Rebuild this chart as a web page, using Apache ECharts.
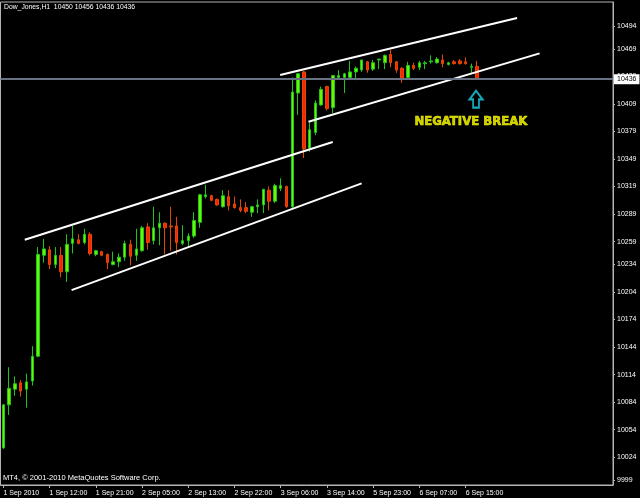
<!DOCTYPE html>
<html><head><meta charset="utf-8">
<script src="https://cdn.jsdelivr.net/npm/echarts@6/dist/echarts.min.js"></script>
<style>html,body{margin:0;padding:0;background:#000;}#c{width:640px;height:498px;}</style>
</head><body><div id="c"></div>
<script>
const chartTitle = 'Dow_Jones,H1  10450 10456 10436 10436';
const footerText = 'MT4, \u00a9 2001-2010 MetaQuotes Software Corp.';
const xTickLabels = ['1 Sep 2010','1 Sep 12:00','1 Sep 21:00','2 Sep 05:00','2 Sep 13:00','2 Sep 22:00','3 Sep 06:00','3 Sep 14:00','5 Sep 23:00','6 Sep 07:00','6 Sep 15:00'];
const barsPerTick = 8;
const totalSlots = 106;
const yTickValues = [10494,10469,10439,10409,10379,10349,10319,10289,10259,10234,10204,10174,10144,10114,10084,10054,10024,9999];
const yMin = 9993.6, yMax = 10520.2;
const currentPrice = 10436;

const opens = [10034,10081,10098,10105,10098,10107,10134,10244,10250,10234,
  10244,10226,10257,10261,10258,10267,10245,10248,10245,10234,
  10237,10242,10256,10244,10249,10275,10260,10274,10279,10276,
  10276,10257,10260,10265,10280,10308,10309,10305,10297,10308,
  10300,10296,10296,10291,10297,10299,10315,10303,10317,10319,
  10297,10421,10444,10361,10378,10408,10428,10405,10438,10438,
  10438,10444,10446,10455,10447,10457,10454,10463,10455,10448,
  10438,10451,10449,10453,10455,10454,10457,10452,10455,10456,
  10455,10449,10450];
const highs = [10082,10122,10112,10108,10115,10145,10253,10262,10254,10253,
  10253,10267,10276,10267,10273,10269,10250,10249,10246,10248,
  10246,10260,10261,10273,10276,10279,10297,10291,10280,10297,
  10286,10277,10268,10291,10311,10321,10310,10306,10315,10315,
  10308,10305,10302,10298,10305,10316,10319,10322,10328,10320,
  10438,10443,10445,10389,10413,10428,10429,10440,10446,10443,
  10456,10450,10457,10456,10457,10458,10463,10468,10456,10449,
  10455,10454,10456,10456,10462,10460,10463,10455,10457,10458,
  10460,10453,10456];
const lows = [10033,10070,10091,10090,10078,10102,10133,10236,10229,10230,
  10220,10215,10246,10256,10256,10244,10243,10243,10229,10233,
  10231,10238,10233,10238,10248,10250,10256,10255,10245,10249,
  10245,10255,10253,10263,10274,10306,10303,10298,10296,10293,
  10295,10291,10290,10286,10290,10290,10293,10301,10314,10296,
  10296,10397,10350,10357,10375,10407,10402,10399,10436,10421,
  10435,10435,10444,10443,10445,10447,10447,10449,10443,10432,
  10437,10446,10446,10447,10453,10453,10449,10451,10452,10452,
  10452,10443,10436];
const closes = [10081,10099,10104,10096,10106,10134,10245,10251,10234,10244,
  10226,10256,10262,10257,10267,10246,10249,10244,10236,10237,
  10242,10257,10243,10251,10274,10258,10274,10279,10274,10275,
  10258,10260,10265,10282,10310,10310,10304,10299,10309,10298,
  10296,10293,10292,10297,10299,10316,10303,10320,10320,10297,
  10422,10442,10360,10381,10410,10425,10404,10440,10440,10442,
  10444,10448,10457,10446,10454,10458,10462,10454,10446,10437,
  10451,10448,10454,10454,10456,10458,10453,10454,10453,10453,
  10453,10450,10436];

// trend lines: [barIndex, price] endpoints
const trendLineA = [[3.7, 10261], [57.0, 10367.5]];
const trendLineB = [[11.8, 10206], [62.0, 10322.5]];
const trendLineC = [[47.9, 10440.6], [88.9, 10502.7]];
const trendLineD = [[52.8, 10389.7], [92.8, 10464.2]];
const arrowPoint = [81.8, 10414.2];
const notePoint = [80.9, 10390.2];
const noteText = 'NEGATIVE BREAK';

const categories = [];
for (let i = 0; i < totalSlots; i++) categories.push('b' + i);
const candleData = opens.map((o, i) => [o, closes[i], lows[i], highs[i]]);
const isTick = (idx) => idx % barsPerTick === 0 && idx / barsPerTick < xTickLabels.length;

const arrowPath = 'path://M20 0 L40 26 L29 26 L29 51 L11 51 L11 26 L0 26 Z';
const small = {fontFamily: 'Liberation Sans', fontSize: 7, color: '#ffffff'};

const chart = echarts.init(document.getElementById('c'), null, {renderer: 'canvas'});
chart.setOption({
  animation: false,
  backgroundColor: '#000000',
  title: {text: chartTitle, left: 4, top: 4, padding: 0,
    textStyle: {fontFamily: 'Liberation Sans', fontSize: 6.8, fontWeight: 'normal', color: '#ffffff'}},
  graphic: [{type: 'text', left: 3, top: 474, style: {text: footerText, fill: '#ffffff', font: '7.5px "Liberation Sans"'}}],
  grid: {left: 0.5, right: 27, top: 2, bottom: 13, show: true, borderColor: '#b4b4b4', borderWidth: 1, backgroundColor: 'transparent'},
  xAxis: [{
    type: 'category', data: categories, boundaryGap: true,
    axisLine: {show: true, onZero: false, lineStyle: {color: '#b4b4b4'}},
    axisTick: {show: true, alignWithLabel: true, interval: (i) => isTick(i), length: 3, lineStyle: {color: '#b4b4b4'}},
    axisLabel: Object.assign({interval: (i) => isTick(i), formatter: (v, i) => xTickLabels[i / barsPerTick] || '', align: 'left', margin: 5}, small),
    splitLine: {show: false}
  }, {
    type: 'value', min: -0.5, max: totalSlots - 0.5, show: false
  }],
  yAxis: {
    type: 'value', position: 'right', min: yMin, max: yMax, scale: true,
    axisLine: {show: true, onZero: false, lineStyle: {color: '#b4b4b4'}},
    axisTick: {show: true, customValues: yTickValues, length: 2, lineStyle: {color: '#b4b4b4'}},
    axisLabel: Object.assign({customValues: yTickValues, margin: 4, formatter: (v) => String(Math.round(v))}, small),
    splitLine: {show: false}
  },
  series: [{
    type: 'candlestick', xAxisIndex: 0, data: candleData, barWidth: 3,
    itemStyle: {color: '#6cf400', color0: '#ff2400', borderColor: '#1cc41c', borderColor0: '#e04808', borderWidth: 1},
    markLine: {
      silent: true, symbol: 'none', animation: false,
      lineStyle: {color: '#687282', width: 2, type: 'solid'},
      label: {show: true, position: 'end', distance: 1, formatter: String(currentPrice), backgroundColor: '#ffffff', color: '#000000', fontFamily: 'Liberation Sans', fontSize: 7, padding: [2, 3, 1, 3]},
      data: [{yAxis: currentPrice}]
    }
  },
  ...[trendLineA, trendLineB, trendLineC, trendLineD].map(d => ({
    type: 'line', xAxisIndex: 1, data: d, symbol: 'none', silent: true,
    lineStyle: {color: '#ffffff', width: 2}
  })),
  {
    type: 'scatter', xAxisIndex: 1, data: [arrowPoint], symbol: arrowPath, symbolSize: [13, 17], silent: true,
    itemStyle: {color: 'rgba(0,0,0,0)', borderColor: '#1ad4ee', borderWidth: 2}
  }, {
    type: 'scatter', xAxisIndex: 1, data: [notePoint], symbolSize: 1, silent: true,
    itemStyle: {color: 'rgba(0,0,0,0)'},
    label: {show: true, position: 'inside', formatter: noteText, color: '#ffff00', fontSize: 13, fontWeight: 'bold',
      textBorderColor: '#ffff00', textBorderWidth: 0.6,
      fontFamily: "'Liberation Sans Narrow', 'DejaVu Sans Condensed', sans-serif"}
  }]
});
</script></body></html>
